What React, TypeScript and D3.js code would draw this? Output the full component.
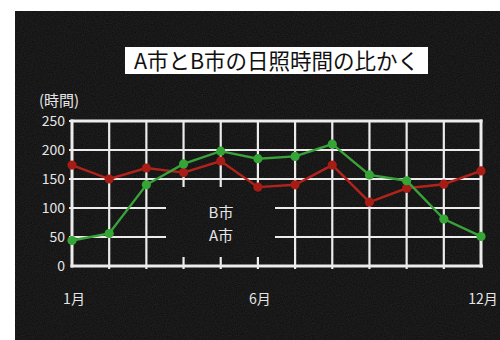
import React from "react";
import * as d3 from "d3";

const months = ["1月", "2月", "3月", "4月", "5月", "6月", "7月", "8月", "9月", "10月", "11月", "12月"];
const labeledMonths = ["1月", "6月", "12月"];
const cityB = [174, 150, 169, 161, 181, 136, 140, 174, 110, 134, 141, 164];
const cityA = [44, 56, 140, 176, 198, 185, 189, 210, 157, 147, 81, 51];
const yTicks = [0, 50, 100, 150, 200, 250];
const legendLabels = ["B市", "A市"];

const W = 500;
const H = 340;
const FONT = "'Noto Sans CJK JP', 'Noto Sans', sans-serif";

export default function App() {
  const x = d3.scalePoint<string>().domain(months).range([72, 481]);
  const y = d3.scaleLinear().domain([0, 250]).range([266, 121]);

  // hole in the grid that holds the legend text
  const gap = { x0: 166, x1: 275, y0: 187, y1: 257 };

  const line = d3
    .line<number>()
    .x((_, i) => x(months[i]) as number)
    .y((d) => y(d));

  const gridColor = "#ececec";
  const hLines: JSX.Element[] = [];
  yTicks.forEach((t) => {
    if (t === 0) return;
    const yy = y(t);
    const inGap = yy > gap.y0 && yy < gap.y1;
    if (inGap) {
      hLines.push(<line key={`h${t}a`} x1={69} x2={gap.x0} y1={yy} y2={yy} />);
      hLines.push(<line key={`h${t}b`} x1={gap.x1} x2={481} y1={yy} y2={yy} />);
    } else {
      hLines.push(<line key={`h${t}`} x1={69} x2={481} y1={yy} y2={yy} />);
    }
  });

  const vLines: JSX.Element[] = [];
  months.forEach((m, i) => {
    const xx = x(m) as number;
    if (i === 0 || i === months.length - 1) return;
    const inGap = xx > gap.x0 && xx < gap.x1;
    if (inGap) {
      vLines.push(<line key={`v${i}a`} x1={xx} x2={xx} y1={y(250)} y2={gap.y0} />);
      vLines.push(<line key={`v${i}b`} x1={xx} x2={xx} y1={gap.y1} y2={y(0) + 3} />);
    } else {
      vLines.push(<line key={`v${i}`} x1={xx} x2={xx} y1={y(250)} y2={y(0) + 3} />);
    }
  });

  const series = [
    { name: "B", values: cityB, color: "#b3231b", dot: "#a81c16" },
    { name: "A", values: cityA, color: "#3aa23a", dot: "#35a535" },
  ];

  return (
    <svg
      width={W}
      height={H}
      style={{ position: "absolute", left: 0, top: 0, display: "block" }}
      fontFamily={FONT}
    >
      <defs>
        <filter id="grain" x="0" y="0" width="100%" height="100%">
          <feTurbulence type="fractalNoise" baseFrequency="0.9" numOctaves="2" seed="3" result="n" />
          <feColorMatrix
            in="n"
            type="matrix"
            values="0 0 0 0 0.12  0 0 0 0 0.12  0 0 0 0 0.12  0 0 0 0.5 0"
          />
        </filter>
      </defs>
      <rect x={0} y={0} width={W} height={H} fill="#ffffff" />
      <rect x={15} y={11} width={W - 15} height={H - 11} fill="#0c0c0c" />
      <rect x={15} y={11} width={W - 15} height={H - 11} filter="url(#grain)" opacity={0.6} />

      {/* title */}
      <rect x={125} y={47} width={303} height={27} fill="#ffffff" />
      <text x={276.5} y={68.5} textAnchor="middle" fontSize={21.5} fill="#111">
        A市とB市の日照時間の比かく
      </text>

      {/* unit label */}
      <text x={39} y={106} fontSize={15} fill="#e6e6e6">
        (時間)
      </text>

      {/* y tick labels */}
      {yTicks.map((t) => (
        <text key={t} x={65} y={y(t) + 5} textAnchor="end" fontSize={14} fill="#e6e6e6">
          {t}
        </text>
      ))}

      {/* grid */}
      <g stroke={gridColor} strokeWidth={2.2}>
        {hLines}
        {vLines}
      </g>

      {/* frame */}
      <g stroke={gridColor} strokeWidth={3} fill="none">
        <line x1={72} x2={72} y1={y(250) - 1.5} y2={y(0) + 1.5} />
        <line x1={481} x2={481} y1={y(250) - 1.5} y2={y(0) + 1.5} />
        <line x1={70.5} x2={482.5} y1={y(250)} y2={y(250)} />
        <line x1={70.5} x2={483} y1={y(0)} y2={y(0)} />
      </g>

      {/* month labels */}
      {labeledMonths.map((m) => (
        <text key={m} x={(x(m) as number) + 2} y={304} textAnchor="middle" fontSize={14} fill="#e6e6e6">
          {m}
        </text>
      ))}

      {/* legend */}
      {legendLabels.map((l, i) => (
        <text key={l} x={221} y={218 + i * 23} textAnchor="middle" fontSize={15} fill="#e6e6e6">
          {l}
        </text>
      ))}

      {/* series */}
      {series.map((s) => (
        <g key={s.name}>
          <path d={line(s.values) ?? ""} fill="none" stroke={s.color} strokeWidth={2.4} />
          {s.values.map((v, i) => (
            <circle key={i} cx={x(months[i]) as number} cy={y(v)} r={4.6} fill={s.dot} />
          ))}
        </g>
      ))}
    </svg>
  );
}
